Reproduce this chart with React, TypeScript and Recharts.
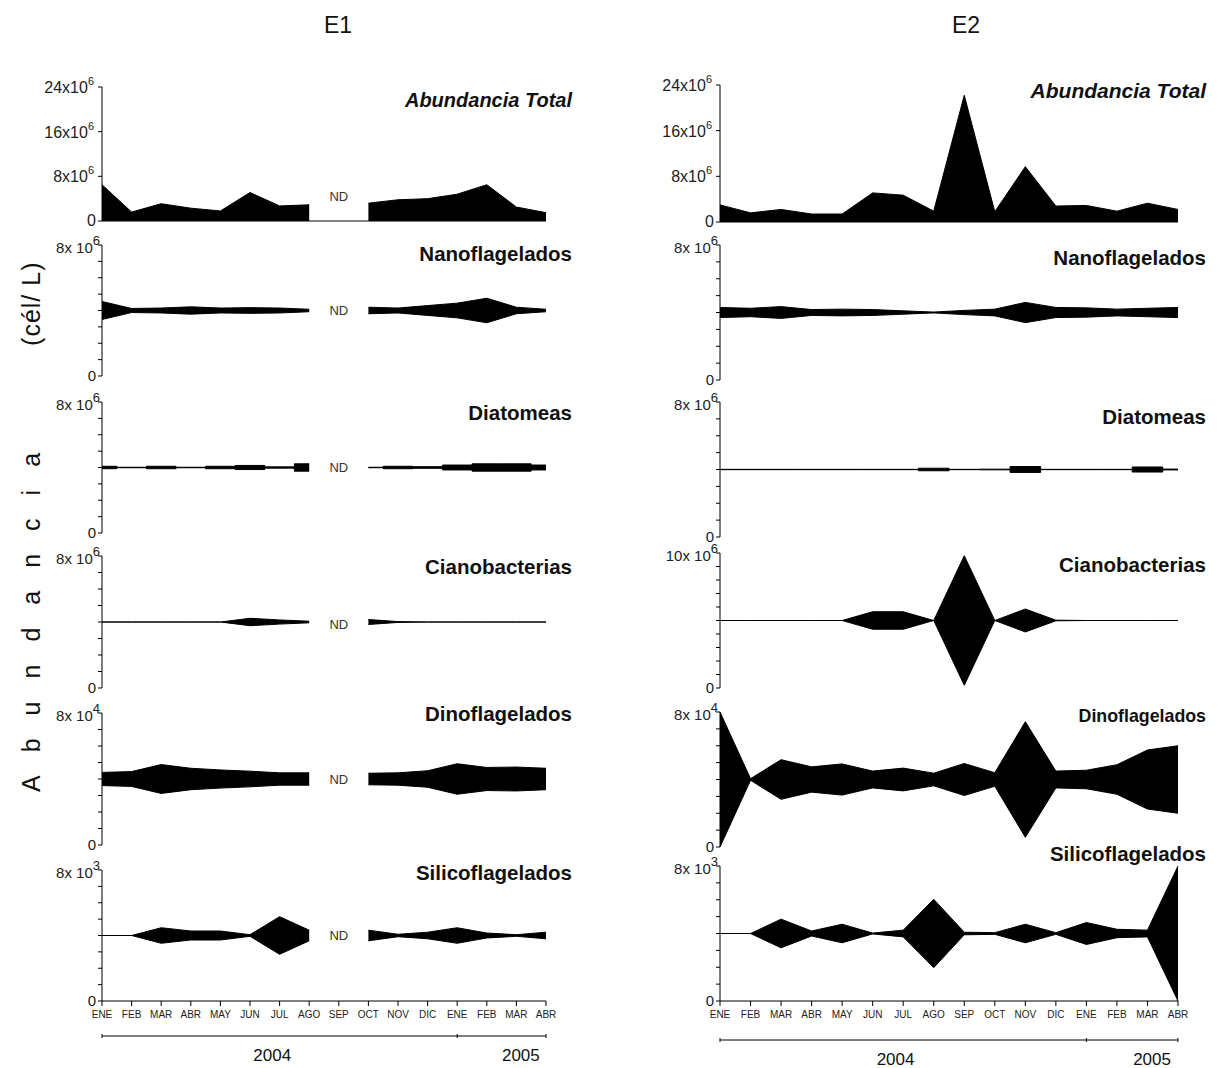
import { ComposedChart, Area, XAxis, YAxis, ReferenceDot } from 'recharts'

const months = ['ENE', 'FEB', 'MAR', 'ABR', 'MAY', 'JUN', 'JUL', 'AGO', 'SEP', 'OCT', 'NOV', 'DIC', 'ENE', 'FEB', 'MAR', 'ABR']
const years = [
  { label: '2004', at: 5.75 },
  { label: '2005', at: 14.15 },
]
const yearBreaks = [0, 12, 15]

// E1 - SEP sin datos (ND)
const e1Total = [6.5, 1.6, 3.1, 2.3, 1.8, 5.1, 2.7, 2.9, null, 3.2, 3.8, 4.0, 4.8, 6.5, 2.5, 1.5]
const e1Nano = [1.1, 0.25, 0.3, 0.45, 0.3, 0.35, 0.3, 0.15, null, 0.4, 0.3, 0.6, 0.9, 1.5, 0.4, 0.15]
const e1Diat = [0.15, 0.03, 0.15, 0.03, 0.15, 0.25, 0.08, 0.45, null, 0.03, 0.15, 0.1, 0.3, 0.45, 0.45, 0.3]
const e1Ciano = [0, 0, 0, 0, 0, 0.45, 0.25, 0.1, null, 0.3, 0.05, 0, 0, 0, 0, 0]
const e1Dino = [0.8, 0.9, 1.75, 1.3, 1.1, 0.95, 0.75, 0.75, null, 0.7, 0.75, 1.0, 1.85, 1.4, 1.45, 1.3]
const e1Silico = [0, 0, 0.95, 0.55, 0.55, 0.1, 2.3, 0.65, null, 0.65, 0.15, 0.4, 0.95, 0.3, 0.1, 0.4]

// E2
const e2Total = [3.0, 1.6, 2.2, 1.4, 1.4, 5.1, 4.7, 1.9, 22.2, 1.8, 9.7, 2.8, 2.9, 1.9, 3.3, 2.2]
const e2Nano = [0.6, 0.5, 0.7, 0.35, 0.4, 0.35, 0.2, 0.05, 0.25, 0.4, 1.2, 0.6, 0.55, 0.4, 0.5, 0.6]
const e2Diat = [0.02, 0.02, 0.02, 0.02, 0.02, 0.02, 0.02, 0.15, 0.02, 0.04, 0.35, 0.02, 0.02, 0.02, 0.3, 0.05]
const e2Ciano = [0, 0, 0, 0, 0, 1.3, 1.3, 0, 9.6, 0, 1.7, 0.05, 0, 0, 0, 0]
const e2Dino = [8.0, 0.1, 2.35, 1.5, 1.85, 1.0, 1.35, 0.75, 1.9, 0.8, 6.85, 1.0, 1.1, 1.75, 3.5, 4.0]
const e2Silico = [0, 0, 1.7, 0.3, 1.1, 0.05, 0.4, 4.05, 0.15, 0.1, 1.1, 0.1, 1.3, 0.5, 0.4, 8.0]

const totalTicks = [0, 8, 16, 24]

const FONT = '"Liberation Sans", Arial, sans-serif'

interface PanelSpec {
  values: (number | null)[]
  kind: 'total' | 'kite'
  max: number
  exp: string
  top: number
  bottom: number
  title: string
  titleY: number
  titleSize: number
  italic?: boolean
  step?: boolean
  ndY?: number
}

interface Column {
  name: string
  nameX: number
  left: number
  right: number
  titleX: number
  axisY: number
  panels: PanelSpec[]
}

const columns: Column[] = [
  {
    name: 'E1', nameX: 338, left: 102, right: 546, titleX: 572, axisY: 1036,
    panels: [
      { values: e1Total, kind: 'total', max: 24, exp: '6', top: 87, bottom: 221, title: 'Abundancia Total', titleY: 100, titleSize: 20, italic: true, ndY: 4.4 },
      { values: e1Nano, kind: 'kite', max: 8, exp: '6', top: 245, bottom: 376, title: 'Nanoflagelados', titleY: 253, titleSize: 20.5, ndY: 4 },
      { values: e1Diat, kind: 'kite', max: 8, exp: '6', top: 402, bottom: 533, title: 'Diatomeas', titleY: 412, titleSize: 20.5, step: true, ndY: 4 },
      { values: e1Ciano, kind: 'kite', max: 8, exp: '6', top: 556, bottom: 688, title: 'Cianobacterias', titleY: 566, titleSize: 20.5, ndY: 3.85 },
      { values: e1Dino, kind: 'kite', max: 8, exp: '4', top: 713, bottom: 845, title: 'Dinoflagelados', titleY: 713, titleSize: 20.5, ndY: 4 },
      { values: e1Silico, kind: 'kite', max: 8, exp: '3', top: 870, bottom: 1001, title: 'Silicoflagelados', titleY: 872, titleSize: 20.5, ndY: 4 },
    ],
  },
  {
    name: 'E2', nameX: 966, left: 720, right: 1178, titleX: 1206, axisY: 1040,
    panels: [
      { values: e2Total, kind: 'total', max: 24, exp: '6', top: 85, bottom: 222, title: 'Abundancia Total', titleY: 90, titleSize: 21, italic: true },
      { values: e2Nano, kind: 'kite', max: 8, exp: '6', top: 245, bottom: 380, title: 'Nanoflagelados', titleY: 257, titleSize: 20.5 },
      { values: e2Diat, kind: 'kite', max: 8, exp: '6', top: 402, bottom: 537, title: 'Diatomeas', titleY: 416, titleSize: 20.5, step: true },
      { values: e2Ciano, kind: 'kite', max: 10, exp: '6', top: 553, bottom: 688, title: 'Cianobacterias', titleY: 564, titleSize: 20.5 },
      { values: e2Dino, kind: 'kite', max: 8, exp: '4', top: 712, bottom: 847, title: 'Dinoflagelados', titleY: 716, titleSize: 17.8 },
      { values: e2Silico, kind: 'kite', max: 8, exp: '3', top: 866, bottom: 1001, title: 'Silicoflagelados', titleY: 853, titleSize: 20.5 },
    ],
  },
]

function SciTick(props: any) {
  const { x, y, payload, max, exp, kind } = props
  const v = payload.value
  if (kind === 'kite' && v !== 0 && v !== max) return <g />
  if (v === 0) {
    return <text x={x} y={y} dy={5} textAnchor="end" fontSize={kind === 'kite' ? 15 : 16} fill="#222" fontFamily={FONT}>0</text>
  }
  if (kind === 'kite') {
    return (
      <text x={x + 4} y={y} dy={8} textAnchor="end" fontSize={15} fill="#222" fontFamily={FONT}>
        {v}x 10<tspan dy={-8} fontSize={13}>{exp}</tspan>
      </text>
    )
  }
  return (
    <text x={x - 2} y={y} dy={6} textAnchor="end" fontSize={16} fill="#222" fontFamily={FONT}>
      {v}x10<tspan dy={-8} fontSize={11}>{exp}</tspan>
    </text>
  )
}

function Panel({ spec, left, right, showMonths }: { spec: PanelSpec, left: number, right: number, showMonths: boolean }) {
  const axisW = 80
  const padTop = 14
  const padRight = 16
  const padBottom = 12
  const xh = showMonths ? 30 : spec.kind === 'total' ? 1 : 0
  const plotH = spec.bottom - spec.top
  const width = right - left + axisW + padRight
  const height = padTop + plotH + xh + padBottom
  const center = spec.max / 2
  const rows = spec.values.map((v, i) => ({ i, v }))
  const yTicks = spec.kind === 'total' ? totalTicks : Array.from({ length: spec.max + 1 }, (_, k) => k)
  const xTicks = months.map((_, i) => i)

  const kiteKey = (d: { v: number | null }) => (d.v == null ? null : [center - d.v / 2, center + d.v / 2])

  return (
    <div style={{ position: 'absolute', left: left - axisW, top: spec.top - padTop }}>
      <ComposedChart width={width} height={height} data={rows} margin={{ top: padTop, right: padRight, bottom: padBottom, left: 0 }}>
        <XAxis
          dataKey="i"
          type="number"
          domain={[0, 15]}
          ticks={xTicks}
          interval={0}
          hide={!showMonths && spec.kind === 'kite'}
          height={xh}
          axisLine={{ stroke: '#000' }}
          tickLine={showMonths ? { stroke: '#000' } : false}
          tickSize={5}
          tickMargin={5}
          tick={showMonths ? { fontSize: 10, fill: '#222', fontFamily: FONT } : false}
          tickFormatter={(i: number) => months[i]}
        />
        <YAxis
          width={axisW}
          type="number"
          domain={[0, spec.max]}
          allowDataOverflow
          ticks={yTicks}
          interval={0}
          tickSize={4}
          axisLine={{ stroke: '#000' }}
          tickLine={{ stroke: '#000' }}
          tick={(p: any) => <SciTick {...p} max={spec.max} exp={spec.exp} kind={spec.kind} />}
        />
        {spec.kind === 'total' ? (
          <Area
            dataKey="v"
            type="linear"
            baseValue={0}
            stroke="#000"
            strokeWidth={1}
            fill="#000"
            fillOpacity={1}
            dot={false}
            activeDot={false}
            isAnimationActive={false}
          />
        ) : (
          <Area
            dataKey={kiteKey}
            type={spec.step ? 'step' : 'linear'}
            stroke="#000"
            strokeWidth={1}
            fill="#000"
            fillOpacity={1}
            dot={false}
            activeDot={false}
            isAnimationActive={false}
          />
        )}
        {spec.ndY != null && (
          <ReferenceDot
            x={8}
            y={spec.ndY}
            r={0}
            fill="none"
            stroke="none"
            label={{ value: 'ND', position: 'center', fontSize: 13, fill: '#333', fontFamily: FONT }}
          />
        )}
      </ComposedChart>
    </div>
  )
}

export default function App() {
  return (
    <div style={{ position: 'absolute', left: 0, top: 0, width: 1217, height: 1068, background: '#fff', fontFamily: FONT }}>
      {columns.map(col => col.panels.map((p, k) => (
        <Panel key={col.name + k} spec={p} left={col.left} right={col.right} showMonths={k === col.panels.length - 1} />
      )))}
      <svg width={1217} height={1068} style={{ position: 'absolute', left: 0, top: 0, pointerEvents: 'none' }}>
        {columns.map(col => {
          const step = (col.right - col.left) / 15
          const xs = (i: number) => col.left + i * step
          return (
            <g key={col.name}>
              <text x={col.nameX} y={25} textAnchor="middle" dominantBaseline="central" fontSize={23} fill="#111" fontFamily={FONT}>{col.name}</text>
              {col.panels.map((p, k) => (
                <text key={k} x={col.titleX} y={p.titleY} textAnchor="end" dominantBaseline="central" fontSize={p.titleSize} fontWeight="bold" fontStyle={p.italic ? 'italic' : 'normal'} fill="#111" fontFamily={FONT}>{p.title}</text>
              ))}
              <line x1={col.left} x2={col.right} y1={col.axisY} y2={col.axisY} stroke="#000" strokeWidth={1} />
              {yearBreaks.map(i => (
                <line key={i} x1={xs(i)} x2={xs(i)} y1={col.axisY - 2} y2={col.axisY + 2} stroke="#000" strokeWidth={1} />
              ))}
              {years.map(y => (
                <text key={y.label} x={xs(y.at)} y={col.axisY + 19} textAnchor="middle" dominantBaseline="central" fontSize={17} fill="#111" fontFamily={FONT}>{y.label}</text>
              ))}
            </g>
          )
        })}
        <text transform="translate(40, 792) rotate(-90)" fontSize={25} fill="#111" fontFamily={FONT}>
          <tspan letterSpacing={23}>Abundancia</tspan>
          <tspan dx={84} letterSpacing={1}>(cél/ L)</tspan>
        </text>
      </svg>
    </div>
  )
}
